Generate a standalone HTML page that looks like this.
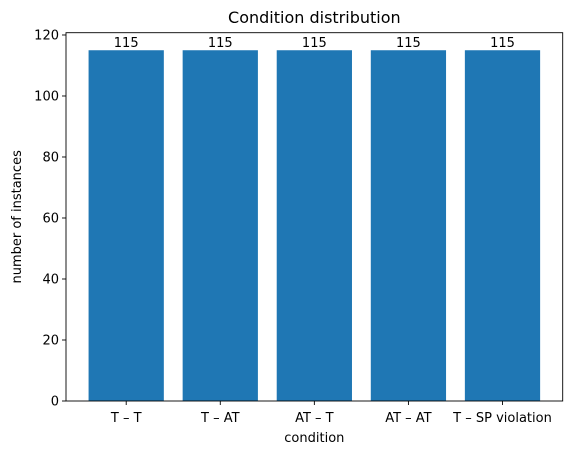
<!DOCTYPE html>
<html><head><meta charset="utf-8"><style>
body{margin:0;background:#fff;font-family:"DejaVu Sans","Liberation Sans",sans-serif;}
</style></head><body>
<svg id="chart" width="571" height="455" xmlns="http://www.w3.org/2000/svg" font-family="DejaVu Sans, Liberation Sans, sans-serif">
<rect width="571" height="455" fill="#fff"/>
<g id="plot"></g>
</svg>
<script>
const categories = ["T – T","T – AT","AT – T","AT – AT","T – SP violation"];
const values = [115,115,115,115,115];
const yTicks = [0,20,40,60,80,100,120];
const L=66,R=562.7,T=32.7,B=401;
const xmin=-0.64,xmax=4.64,ymax=120.75;
const xs=v=>L+(v-xmin)/(xmax-xmin)*(R-L);
const ys=v=>B-v/ymax*(B-T);
const g=document.getElementById('plot');
const NS='http://www.w3.org/2000/svg';
function mk(t,a,txt){const e=document.createElementNS(NS,t);for(const k in a)e.setAttribute(k,a[k]);if(txt!==undefined)e.textContent=txt;g.appendChild(e);return e;}
values.forEach((v,i)=>{
  const b=mk('rect',{x:xs(i-0.4),y:ys(v),width:xs(i+0.4)-xs(i-0.4),height:B-ys(v),fill:'#1f77b4'});
  
  
  const l=mk('text',{x:xs(i),y:ys(v)-3,'text-anchor':'middle','font-size':13,fill:'#000'},String(v));
  
  
  mk('line',{x1:xs(i),x2:xs(i),y1:B,y2:B+4,stroke:'#000','stroke-width':0.9});
  const t=mk('text',{x:xs(i),y:B+21,'text-anchor':'middle','font-size':13,fill:'#000'},categories[i]);
  
  
});
yTicks.forEach(v=>{
  mk('line',{x1:L-4,x2:L,y1:ys(v),y2:ys(v),stroke:'#000','stroke-width':0.9});
  const t=mk('text',{x:L-7,y:ys(v)+4.5,'text-anchor':'end','font-size':13,fill:'#000'},String(v));
  
  
});
const f=mk('rect',{x:L,y:T,width:R-L,height:B-T,fill:'none',stroke:'#000','stroke-width':0.9});


const tt=mk('text',{x:(L+R)/2,y:23,'text-anchor':'middle','font-size':16,fill:'#000'},'Condition distribution');


const xt=mk('text',{x:(L+R)/2,y:442,'text-anchor':'middle','font-size':13,fill:'#000'},'condition');


const yt=mk('text',{x:21,y:(T+B)/2,'text-anchor':'middle','font-size':13,fill:'#000',transform:'rotate(-90 21 '+((T+B)/2)+')'},'number of instances');


</script>
</body></html>
